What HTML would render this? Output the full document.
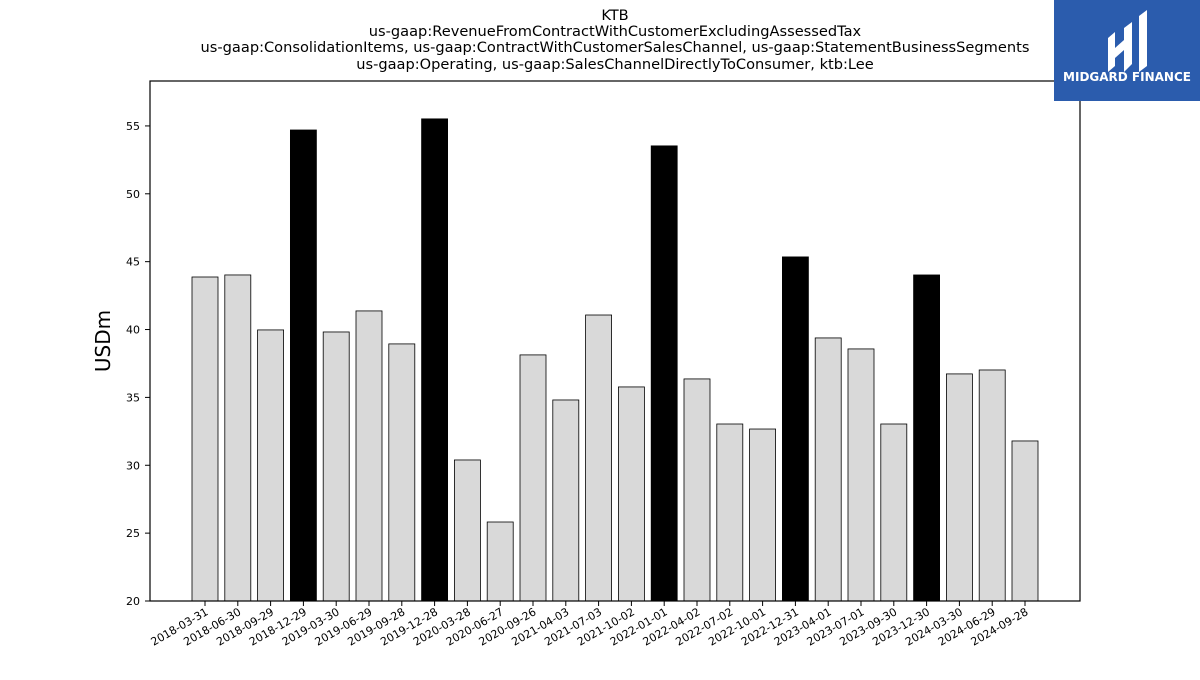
<!DOCTYPE html>
<html><head><meta charset="utf-8"><style>
body{margin:0;background:#fff;width:1200px;height:675px;overflow:hidden;font-family:"Liberation Sans","DejaVu Sans",sans-serif}
</style></head><body>
<svg id="chart" width="1200" height="675" xmlns="http://www.w3.org/2000/svg" font-family="'DejaVu Sans','Liberation Sans',sans-serif">
<g font-size="14.6" text-anchor="middle" fill="#000">
<text x="615" y="20">KTB</text>
<text x="615" y="36">us-gaap:RevenueFromContractWithCustomerExcludingAssessedTax</text>
<text x="615" y="52">us-gaap:ConsolidationItems, us-gaap:ContractWithCustomerSalesChannel, us-gaap:StatementBusinessSegments</text>
<text x="615" y="69">us-gaap:Operating, us-gaap:SalesChannelDirectlyToConsumer, ktb:Lee</text>
</g>
<g id="bars"></g>
<rect x="150" y="81" width="930" height="520" fill="none" stroke="#000" stroke-width="1.2"/>
<g id="yaxis"></g><g id="xaxis"></g>
<text transform="translate(110,341) rotate(-90)" text-anchor="middle" font-size="20">USDm</text>
<g>
<rect x="1054" y="0" width="146" height="101" fill="#2b5cad"/>
<path d="M1108 38 L1115 32 L1115 66 L1108 72 Z M1124 28 L1132 22 L1132 64 L1124 72 Z M1139 16 L1147 10 L1147 66 L1139 72 Z M1115 48 L1124 40 L1124 50 L1115 58 Z" fill="#fff"/>
<text x="1127" y="81" text-anchor="middle" fill="#fff" font-size="12" font-weight="bold">MIDGARD FINANCE</text>
</g>
</svg>
<script>
const categories=["2018-03-31","2018-06-30","2018-09-29","2018-12-29","2019-03-30","2019-06-29","2019-09-28","2019-12-28","2020-03-28","2020-06-27","2020-09-26","2021-04-03","2021-07-03","2021-10-02","2022-01-01","2022-04-02","2022-07-02","2022-10-01","2022-12-31","2023-04-01","2023-07-01","2023-09-30","2023-12-30","2024-03-30","2024-06-29","2024-09-28"];
const values=[43.87,44.02,39.97,54.7,39.82,41.37,38.94,55.52,30.39,25.82,38.13,34.81,41.07,35.77,53.53,36.36,33.04,32.67,45.35,39.38,38.57,33.04,44.02,36.73,37.02,31.79];
const highlighted=[false,false,false,true,false,false,false,true,false,false,false,false,false,false,true,false,false,false,true,false,false,false,true,false,false,false];
const yTicks=[20,25,30,35,40,45,50,55];
const NS="http://www.w3.org/2000/svg";
const yMin=20,yMax=58.31,plotTop=81,plotBot=601;
function y(v){return plotBot-(v-yMin)/(yMax-yMin)*(plotBot-plotTop);}
const step=32.8,x0=205;
function x(i){return x0+i*step;}
const bw=26;
const bars=document.getElementById('bars');
values.forEach((v,i)=>{
 const r=document.createElementNS(NS,'rect');
 
 
 r.setAttribute('x',x(i)-bw/2);r.setAttribute('width',bw);
 r.setAttribute('y',y(v));r.setAttribute('height',plotBot-y(v));
 r.setAttribute('fill',highlighted[i]?'#000':'#d9d9d9');
 r.setAttribute('stroke','#000');r.setAttribute('stroke-width','0.8');
 bars.appendChild(r);
});
const ya=document.getElementById('yaxis');
yTicks.forEach(t=>{
 const l=document.createElementNS(NS,'line');
 
 
 l.setAttribute('x1',145);l.setAttribute('x2',150);l.setAttribute('y1',y(t));l.setAttribute('y2',y(t));l.setAttribute('stroke','#000');
 ya.appendChild(l);
 const tx=document.createElementNS(NS,'text');
 
 
 tx.setAttribute('x',140);tx.setAttribute('y',y(t)+4);tx.setAttribute('text-anchor','end');tx.setAttribute('font-size','11');
 tx.textContent=t;ya.appendChild(tx);
});
const xa=document.getElementById('xaxis');
categories.forEach((c,i)=>{
 const l=document.createElementNS(NS,'line');
 
 
 l.setAttribute('x1',x(i));l.setAttribute('x2',x(i));l.setAttribute('y1',601);l.setAttribute('y2',606);l.setAttribute('stroke','#000');
 xa.appendChild(l);
 const tx=document.createElementNS(NS,'text');
 
 
 tx.setAttribute('text-anchor','end');tx.setAttribute('font-size','11');
 tx.setAttribute('transform','translate('+(x(i)+4)+',614) rotate(-30)');
 tx.textContent=c;xa.appendChild(tx);
});
</script>
</body></html>
